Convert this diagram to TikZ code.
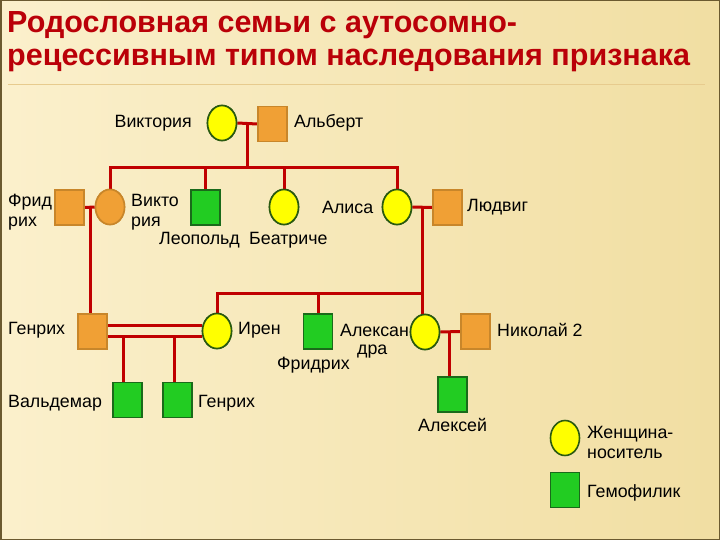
\documentclass[tikz,border=0pt]{standalone}
\usepackage{fontspec}
\setmainfont{Liberation Sans}
\usetikzlibrary{shapes.geometric}
\definecolor{bgA}{HTML}{FBF0CC}
\definecolor{bgB}{HTML}{F1DEA2}
\definecolor{linered}{HTML}{C00000}
\definecolor{titlered}{HTML}{BA0008}
\definecolor{orfill}{HTML}{F0A035}
\definecolor{ordraw}{HTML}{C8862A}
\definecolor{grfill}{HTML}{22CC22}
\definecolor{grdraw}{HTML}{1A6A1A}
\definecolor{yefill}{HTML}{FFFF00}
\definecolor{yedraw}{HTML}{2A5A10}
\definecolor{framecol}{HTML}{6B5A30}
\tikzset{
  sq/.style={rectangle, minimum width=29pt, minimum height=35pt, inner sep=0pt, line width=1.6pt},
  ov/.style={ellipse, minimum width=29pt, minimum height=35pt, inner sep=0pt, line width=1.6pt},
  orsq/.style={sq, fill=orfill, draw=ordraw},
  grsq/.style={sq, fill=grfill, draw=grdraw},
  yeov/.style={ov, fill=yefill, draw=yedraw},
  orov/.style={ov, fill=orfill, draw=ordraw},
  lbl/.style={font=\fontsize{17.8}{20}\selectfont, inner sep=0pt, text=black},
  link/.style={draw=linered, line width=3pt},
  ttl/.style={font=\fontsize{30.5}{32}\selectfont\bfseries, text=titlered, inner sep=0pt, anchor=base west}
}
\begin{document}
\begin{tikzpicture}[x=1pt,y=-1pt]
\useasboundingbox (0,0) rectangle (720,540);
\shade[left color=bgA, right color=bgB] (0,0) rectangle (720,540);
\draw[framecol, line width=1.5pt] (0.75,0.75) rectangle (719.25,539.25);
\draw[color=bgB!80!brown, line width=0.8pt] (8,84) -- (705,84);
% title
\node[ttl] (t1) at (7,33) {Родословная семьи с аутосомно-};
\node[ttl] (t2) at (7,66) {рецессивным типом наследования признака};
% generation 1
\node[yeov] (vic) at (222,123) {};
\node[orsq] (alb) at (272.5,124) {};
% generation 2
\node[orsq] (fri) at (69.5,207.5) {};
\node[orov] (vic2) at (110,207) {};
\node[grsq] (leo) at (205.5,207.5) {};
\node[yeov] (bea) at (284,207) {};
\node[yeov] (ali) at (397,207) {};
\node[orsq] (lud) at (447.5,207.5) {};
% generation 3
\node[orsq] (hen) at (92.5,331.5) {};
\node[yeov] (ire) at (217,331) {};
\node[grsq] (fri2) at (318,331.5) {};
\node[yeov] (ale) at (425,332) {};
\node[orsq] (nik) at (475.5,331.5) {};
% generation 4
\node[grsq] (wal) at (127.5,400) {};
\node[grsq] (hen2) at (177.5,400) {};
\node[grsq] (alx) at (452.5,394.5) {};
% legend
\node[yeov] (leg1) at (565,438) {};
\node[grsq] (leg2) at (565,490) {};
% coordinates
\coordinate (m1) at (247,123);
\coordinate (s1) at (247,168);
\coordinate (m2) at (90,207);
\coordinate (m3) at (422,207);
\coordinate (s2) at (422,293);
\coordinate (m4) at (449,332);
\coordinate (c1) at (123,337.5);
\coordinate (c2) at (174,337.5);
% connectors
\draw[link] (vic.east) -- (alb.west);
\draw[link] (m1) -- (s1);
\draw[link] (vic2.north) |- (s1);
\draw[link] (ali.north) |- (s1);
\draw[link] (leo.north) -- (leo.north |- s1);
\draw[link] (bea.north) -- (bea.north |- s1);
\draw[link] (fri.east) -- (vic2.west);
\draw[link] (m2) -- (m2 |- hen.north);
\draw[link] (ali.east) -- (lud.west);
\draw[link] (m3) -- (m3 |- ale.north);
\draw[link] (ire.north) |- (s2);
\draw[link] (fri2.north) -- (fri2.north |- s2);
\draw[link] ([yshift=-5pt]hen.east) -- ([yshift=-5pt]hen.east -| ire.west);
\draw[link] ([yshift=6pt]hen.east) -- ([yshift=6pt]hen.east -| ire.west);
\draw[link] (c1) -- (c1 |- wal.north);
\draw[link] (c2) -- (c2 |- hen2.north);
\draw[link] (ale.east) -- (nik.west);
\draw[link] (m4) -- (m4 |- alx.north);
% redraw nodes on top
\foreach \n/\s in {vic/yeov,alb/orsq,fri/orsq,vic2/orov,leo/grsq,bea/yeov,ali/yeov,lud/orsq,hen/orsq,ire/yeov,fri2/grsq,ale/yeov,nik/orsq,wal/grsq,hen2/grsq,alx/grsq}
  \node[\s] at (\n) {};
% labels
\node[lbl, anchor=east] (lvic) at (192,123) {Виктория};
\node[lbl, anchor=west] (lalb) at (294,123) {Альберт};
\node[lbl, anchor=west, align=left] (lfri) at (8,212) {Фрид\\рих};
\node[lbl, anchor=west, align=left] (lvic2) at (131,212) {Викто\\рия};
\node[lbl, anchor=west] (lleo) at (159,240) {Леопольд};
\node[lbl, anchor=west] (lbea) at (249,240) {Беатриче};
\node[lbl, anchor=west] (lali) at (322,207) {Алиса};
\node[lbl, anchor=west] (llud) at (467,207) {Людвиг};
\node[lbl, anchor=west] (lhen) at (8,330) {Генрих};
\node[lbl, anchor=west] (lire) at (238,330) {Ирен};
\node[lbl, anchor=west] (lale1) at (340,330) {Алексан};
\node[lbl, anchor=west] (lale2) at (357,352) {дра};
\node[lbl, anchor=west] (lfri2) at (277,365) {Фридрих};
\node[lbl, anchor=west] (lnik) at (497,330) {Николай 2};
\node[lbl, anchor=west] (lwal) at (8,403) {Вальдемар};
\node[lbl, anchor=west] (lhen2) at (198,403) {Генрих};
\node[lbl, anchor=west] (lalx) at (418,425) {Алексей};
\node[lbl, anchor=west, align=left] (lleg1) at (587,442) {Женщина-\\носитель};
\node[lbl, anchor=west] (lleg2) at (587,493) {Гемофилик};
\end{tikzpicture}
\end{document}
